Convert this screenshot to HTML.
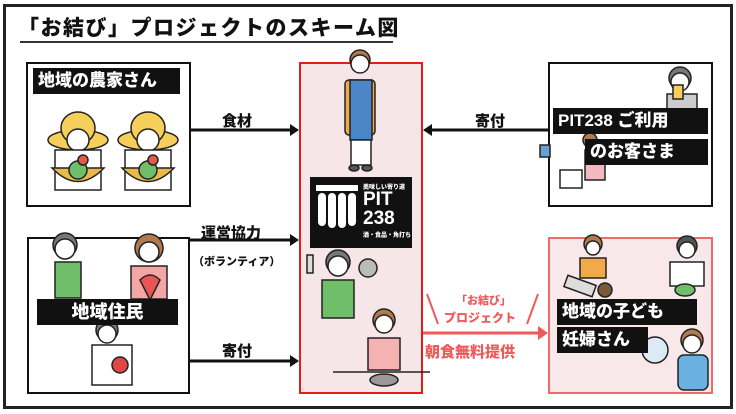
<!DOCTYPE html>
<html><head><meta charset="utf-8"><style>
*{margin:0;padding:0;box-sizing:border-box}
body{width:736px;height:414px;background:#fff;position:relative;overflow:hidden;font-family:"Liberation Sans","Noto Sans CJK JP",sans-serif;font-weight:bold}
.a{position:absolute}
.lbl{position:absolute;background:#111;color:#fff;font-size:17px;line-height:26px;padding:0 5px;white-space:nowrap;font-weight:900}
.t{position:absolute;font-size:15px;color:#111;white-space:nowrap;font-weight:900}
</style></head><body>
<div class="a" style="left:3px;top:4px;width:730px;height:405px;border:3px solid #222"></div>
<div class="t" style="left:18px;top:12px;font-size:21px;letter-spacing:1.5px">「お結び」プロジェクトのスキーム図</div>
<div class="a" style="left:20px;top:41px;width:373px;height:2px;background:#333"></div>

<div class="a" style="left:26px;top:62px;width:165px;height:145px;border:2px solid #111"></div>
<div class="a" style="left:299px;top:62px;width:124px;height:332px;border:2px solid #e51c1c;background:#f7e6e8"></div>
<div class="a" style="left:548px;top:62px;width:165px;height:145px;border:2px solid #111"></div>
<div class="a" style="left:27px;top:237px;width:163px;height:157px;border:2px solid #111"></div>
<div class="a" style="left:548px;top:237px;width:165px;height:157px;border:2px solid #ef6b6b;background:#f8e8ea"></div>

<svg class="a" style="left:0;top:0" width="736" height="414">
<g stroke="#111" stroke-width="3" fill="#111">
<line x1="191" y1="130" x2="292" y2="130"/><polygon points="299,130 290,124 290,136" stroke="none"/>
<line x1="548" y1="130" x2="430" y2="130"/><polygon points="423,130 432,124 432,136" stroke="none"/>
<line x1="190" y1="240" x2="292" y2="240"/><polygon points="299,240 290,234 290,246" stroke="none"/>
<line x1="190" y1="361" x2="292" y2="361"/><polygon points="299,361 290,355 290,367" stroke="none"/>
</g>
<g stroke="#ef5a5a" stroke-width="3" fill="#ef5a5a">
<line x1="423" y1="333" x2="540" y2="333"/><polygon points="548,333 538,326 538,340" stroke="none"/>
<line x1="427" y1="294" x2="438" y2="324" stroke-width="2"/><line x1="538" y1="294" x2="527" y2="324" stroke-width="2"/>
</g>
<g stroke="#222" stroke-width="1.5">
<ellipse cx="78" cy="140" rx="30" ry="10" fill="#f5cf5a"/><ellipse cx="78" cy="128" rx="17" ry="16" fill="#f5cf5a"/>
<circle cx="78" cy="140" r="11" fill="#fff"/><rect x="55" y="150" width="46" height="40" fill="#fff"/>
<path d="M52 168 Q78 195 104 168 Z" fill="#e9b94a"/><circle cx="78" cy="170" r="9" fill="#6fbf6a"/><circle cx="83" cy="160" r="5" fill="#e25a4a"/>
<ellipse cx="148" cy="140" rx="30" ry="10" fill="#f5cf5a"/><ellipse cx="148" cy="128" rx="17" ry="16" fill="#f5cf5a"/>
<circle cx="148" cy="140" r="11" fill="#fff"/><rect x="125" y="150" width="46" height="40" fill="#fff"/>
<path d="M122 168 Q148 195 174 168 Z" fill="#e9b94a"/><circle cx="148" cy="170" r="9" fill="#6fbf6a"/><circle cx="153" cy="160" r="5" fill="#e25a4a"/>
<circle cx="360" cy="60" r="10" fill="#b07a4f"/><circle cx="360" cy="64" r="9" fill="#fff"/>
<rect x="345" y="80" width="30" height="55" rx="4" fill="#f2a94a"/><rect x="350" y="80" width="22" height="60" fill="#4a86c8"/>
<rect x="351" y="140" width="20" height="25" fill="#fff"/><ellipse cx="354" cy="168" rx="5" ry="3" fill="#555"/><ellipse cx="367" cy="168" rx="5" ry="3" fill="#555"/>
<circle cx="338" cy="262" r="12" fill="#777"/><circle cx="338" cy="266" r="10" fill="#fff"/>
<rect x="322" y="280" width="32" height="38" fill="#6fbf6a"/><circle cx="368" cy="268" r="9" fill="#bbb"/>
<rect x="307" y="255" width="6" height="18" fill="#ddd"/>
<circle cx="384" cy="320" r="11" fill="#b07a4f"/><circle cx="384" cy="324" r="9" fill="#fff"/>
<rect x="368" y="338" width="32" height="32" fill="#f4b2b2"/>
<line x1="333" y1="372" x2="430" y2="372"/><ellipse cx="384" cy="380" rx="14" ry="6" fill="#999"/>
<circle cx="680" cy="78" r="11" fill="#777"/><circle cx="680" cy="82" r="9" fill="#fff"/>
<rect x="667" y="94" width="30" height="16" fill="#ccc"/><rect x="673" y="85" width="10" height="14" fill="#f5cf5a"/>
<circle cx="590" cy="140" r="7" fill="#b07a4f"/><rect x="585" y="150" width="20" height="30" fill="#f4b8c0"/>
<rect x="560" y="170" width="22" height="18" fill="#fff"/><rect x="540" y="145" width="10" height="12" fill="#6aa0d8"/>
<circle cx="65" cy="245" r="12" fill="#777"/><circle cx="65" cy="249" r="10" fill="#fff"/><rect x="55" y="262" width="26" height="36" fill="#6fbf6a"/>
<circle cx="149" cy="248" r="14" fill="#b07a4f"/><circle cx="149" cy="252" r="10" fill="#fff"/><rect x="131" y="266" width="36" height="33" fill="#f4a5a5"/>
<path d="M140 280 Q150 270 160 280 L150 300 Z" fill="#e85555"/>
<circle cx="107" cy="330" r="11" fill="#777"/><circle cx="107" cy="334" r="9" fill="#fff"/><rect x="92" y="345" width="40" height="40" fill="#fff"/>
<ellipse cx="120" cy="365" rx="8" ry="8" fill="#e04848"/>
<circle cx="593" cy="244" r="9" fill="#b07a4f"/><circle cx="593" cy="248" r="7" fill="#fff"/><rect x="580" y="258" width="26" height="20" fill="#f2a94a"/>
<rect x="565" y="280" width="30" height="12" fill="#ddd" transform="rotate(20 580 286)"/><circle cx="605" cy="290" r="7" fill="#7a5a3a"/>
<circle cx="687" cy="246" r="10" fill="#555"/><circle cx="687" cy="250" r="8" fill="#fff"/><rect x="670" y="262" width="34" height="24" fill="#fff"/>
<ellipse cx="685" cy="290" rx="10" ry="6" fill="#6fbf6a"/>
<circle cx="655" cy="350" r="13" fill="#dde9f5"/><circle cx="692" cy="340" r="11" fill="#b07a4f"/><circle cx="692" cy="344" r="9" fill="#fff"/>
<rect x="678" y="355" width="30" height="35" rx="6" fill="#6ab0e0"/>
</g>
</svg>

<div class="lbl" style="left:33px;top:68px;width:147px">地域の農家さん</div>
<div class="lbl" style="left:553px;top:108px;width:155px;font-size:17px">PIT238 ご利用</div>
<div class="lbl" style="left:585px;top:139px;width:123px">のお客さま</div>
<div class="lbl" style="left:37px;top:299px;width:141px;text-align:center;font-size:18px">地域住民</div>
<div class="lbl" style="left:557px;top:299px;width:140px">地域の子ども</div>
<div class="lbl" style="left:557px;top:327px;width:91px">妊婦さん</div>

<div class="t" style="left:222px;top:110px">食材</div>
<div class="t" style="left:475px;top:110px">寄付</div>
<div class="t" style="left:201px;top:222px">運営協力</div>
<div class="t" style="left:193px;top:253px;font-size:11px">（ボランティア）</div>
<div class="t" style="left:222px;top:340px">寄付</div>
<div class="t" style="left:456px;top:292px;font-size:11px;color:#ef5a5a">「お結び」</div>
<div class="t" style="left:444px;top:309px;font-size:12px;color:#ef5a5a">プロジェクト</div>
<div class="t" style="left:425px;top:341px;font-size:15px;color:#ef5a5a">朝食無料提供</div>

<div class="a" style="left:310px;top:177px;width:102px;height:71px;background:#111"></div>
<svg class="a" style="left:314px;top:183px" width="46" height="60"><g fill="#fff"><rect x="2" y="2" width="42" height="6"/><rect x="4" y="10" width="8" height="33" rx="4"/><rect x="14" y="10" width="8" height="35" rx="4"/><rect x="24" y="10" width="8" height="35" rx="4"/><rect x="34" y="10" width="8" height="33" rx="4"/></g></svg>
<div class="t" style="left:363px;top:182px;font-size:6px;color:#fff">美味しい寄り道</div>
<div class="t" style="left:363px;top:190px;font-size:19px;line-height:19px;color:#fff">PIT<br>238</div>
<div class="t" style="left:363px;top:230px;font-size:6px;color:#fff">酒・食品・角打ち</div>
</body></html>
